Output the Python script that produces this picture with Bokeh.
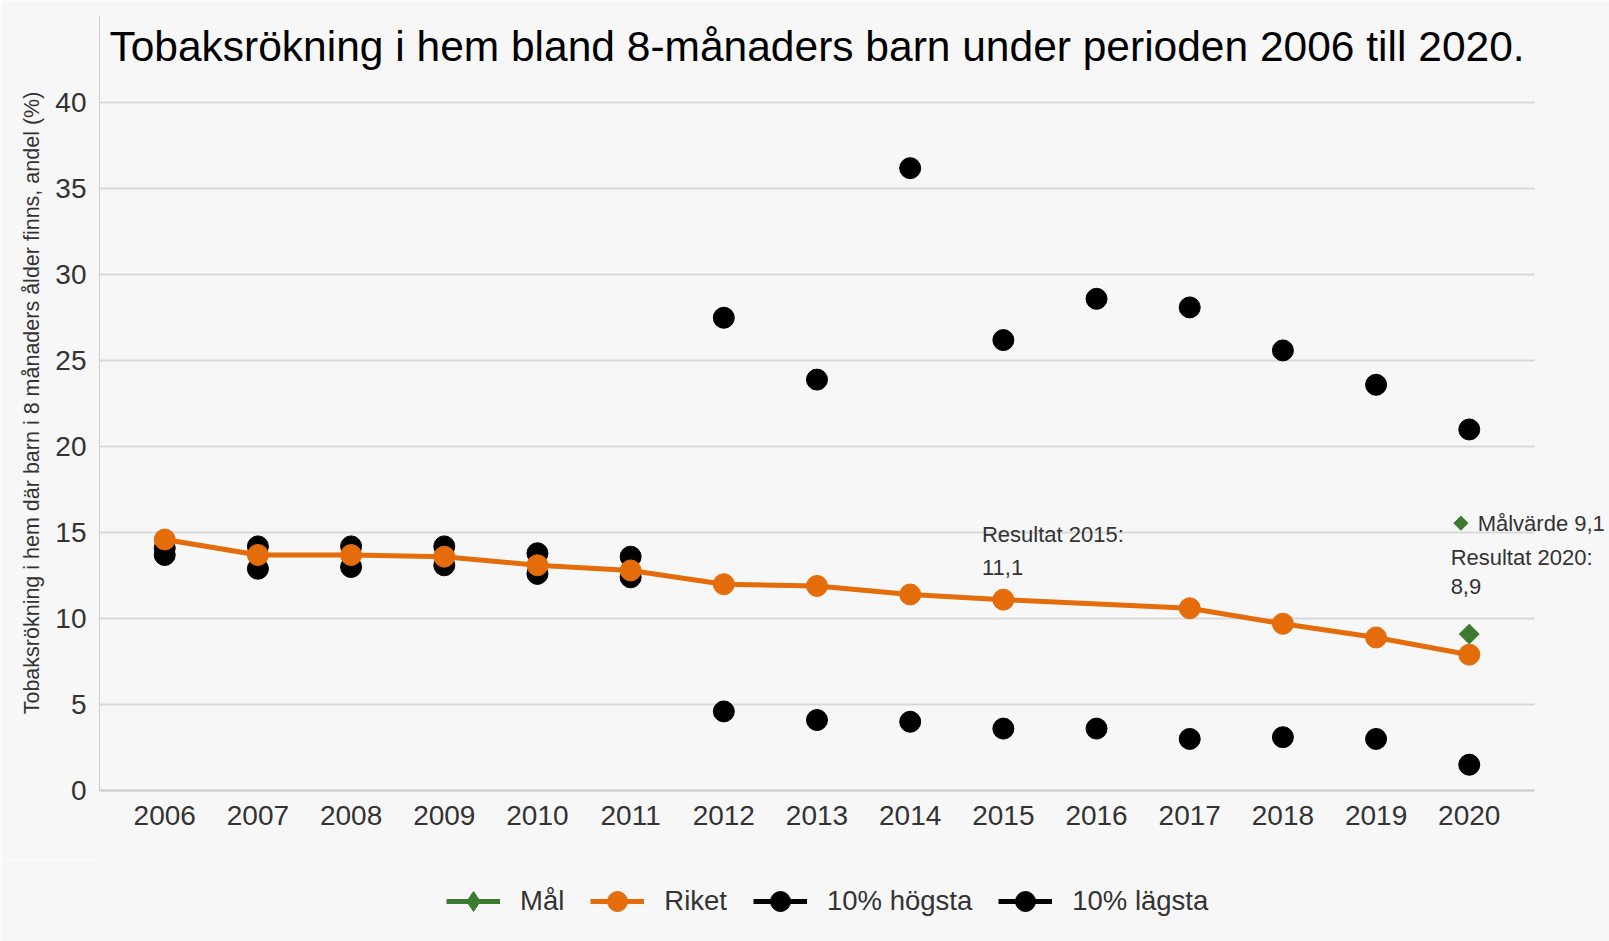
import numpy as np
from bokeh.plotting import figure
from bokeh.layouts import column
from bokeh.models import (Range1d, FixedTicker, Legend, LegendItem, Label,
                          BoxAnnotation)
from bokeh.embed import file_html
from bokeh.resources import INLINE

# ---------------- data ----------------
years = [2006, 2007, 2008, 2009, 2010, 2011, 2012, 2013, 2014, 2015, 2016, 2017, 2018, 2019, 2020]
riket_years = [2006, 2007, 2008, 2009, 2010, 2011, 2012, 2013, 2014, 2015, 2017, 2018, 2019, 2020]
riket = [14.6, 13.7, 13.7, 13.6, 13.1, 12.8, 12.0, 11.9, 11.4, 11.1, 10.6, 9.7, 8.9, 7.9]
hogsta = [14.1, 14.2, 14.2, 14.2, 13.8, 13.6, 27.5, 23.9, 36.2, 26.2, 28.6, 28.1, 25.6, 23.6, 21.0]
lagsta = [13.7, 12.9, 13.0, 13.1, 12.6, 12.4, 4.6, 4.1, 4.0, 3.6, 3.6, 3.0, 3.1, 3.0, 1.5]
mal_years = [2020]
mal = [9.1]
y_ticks = [0, 5, 10, 15, 20, 25, 30, 35, 40]
legend_labels = ["Mål", "Riket", "10% högsta", "10% lägsta"]

title_text = "Tobaksrökning i hem bland 8-månaders barn under perioden 2006 till 2020."
y_label = "Tobaksrökning i hem där barn i 8 månaders ålder finns, andel (%)"

FONT = "Liberation Sans"
ORANGE = "#e46c0a"
GREEN = "#3b7a30"
BG = "#f7f7f7"

X0, X_AXIS_END, X1 = 2005.3, 2020.7, 2021.505
Y1 = 45.08

p = figure(width=1609, height=860, output_backend="svg", toolbar_location=None,
           x_range=Range1d(X0, X1), y_range=Range1d(0, Y1),
           min_border_left=99, min_border_right=0, min_border_top=15,
           min_border_bottom=70)
p.background_fill_color = BG
p.border_fill_color = BG
p.outline_line_color = None

# grid / axes
p.xgrid.grid_line_color = None
p.ygrid.grid_line_color = "#d9d9d9"
p.ygrid.grid_line_width = 2
p.yaxis.ticker = FixedTicker(ticks=y_ticks)
p.xaxis.ticker = FixedTicker(ticks=years)

for ax in (p.xaxis, p.yaxis):
    ax.major_tick_line_color = None
    ax.minor_tick_line_color = None
    ax.major_label_text_font = FONT
    ax.major_label_text_font_size = "28px"
    ax.major_label_text_color = "#333333"

p.xaxis.axis_line_color = "#c8c8c8"
p.xaxis.axis_line_width = 2
p.xaxis.major_label_standoff = 9
p.xaxis.bounds = (X0, X_AXIS_END)
p.yaxis.axis_line_color = "#cccccc"
p.yaxis.axis_line_width = 1
p.yaxis.major_label_standoff = 7
p.yaxis.axis_label = y_label
p.yaxis.axis_label_text_font = FONT
p.yaxis.axis_label_text_font_size = "21.5px"
p.yaxis.axis_label_text_font_style = "normal"
p.yaxis.axis_label_text_color = "#333333"
p.yaxis.axis_label_standoff = 8

# cover grid lines to the right of the chart area (room for annotations)
p.add_layout(BoxAnnotation(left=X_AXIS_END, right=X1, bottom=-1, top=Y1 + 1,
                           fill_color=BG, fill_alpha=1.0, line_alpha=0,
                           level="underlay"))

# series
p.scatter(years, hogsta, marker="circle", size=21, color="black")
p.scatter(years, lagsta, marker="circle", size=21, color="black")
p.line(riket_years, riket, line_color=ORANGE, line_width=5)
p.scatter(riket_years, riket, marker="circle", size=21, color=ORANGE)
p.scatter(mal_years, mal, marker="square", angle=np.pi / 4, size=14, color=GREEN)

# annotations
lab_kw = dict(text_font=FONT, text_font_size="22px", text_color="#333333",
              text_baseline="middle")
p.add_layout(Label(x=2014.77, y=14.89, text="Resultat 2015:", **lab_kw))
p.add_layout(Label(x=2014.77, y=12.95, text="11,1", **lab_kw))
p.add_layout(Label(x=2019.8, y=13.57, text="Resultat 2020:", **lab_kw))
p.add_layout(Label(x=2019.8, y=11.87, text="8,9", **lab_kw))
p.add_layout(Label(x=2020.09, y=15.55, text="Målvärde 9,1", **lab_kw))
p.scatter([2019.91], [15.55], marker="square", angle=np.pi / 4, size=10, color=GREEN)

p.add_layout(Label(x=2013.0, y=43.28, text=title_text, text_align="center",
                   text_baseline="middle", text_font=FONT, text_font_size="42.5px",
                   text_color="black"))

# ---------------- legend strip ----------------
# (series drawn again here only as legend proxies; the ranges keep them out of view)
p2 = figure(width=1609, height=81, output_backend="svg", toolbar_location=None,
            x_range=Range1d(0, 1), y_range=Range1d(0, 1),
            x_axis_location=None, y_axis_location=None, min_border=0)
p2.background_fill_color = BG
p2.border_fill_color = BG
p2.outline_line_color = None
p2.grid.visible = False

series = [(mal_years, mal, GREEN, "diamond"),
          (riket_years, riket, ORANGE, "circle"),
          (years, hogsta, "black", "circle"),
          (years, lagsta, "black", "circle")]
items = []
for lab, (xs, ys, col, mk) in zip(legend_labels, series):
    ln = p2.line(xs, ys, line_color=col, line_width=5)
    sc = p2.scatter(xs, ys, marker=mk, size=20, color=col)
    items.append(LegendItem(label=lab, renderers=[ln, sc]))

legend = Legend(items=items, orientation="horizontal", location=(347, 15))
legend.label_text_font = FONT
legend.label_text_font_size = "27.5px"
legend.label_text_color = "#333333"
legend.glyph_width = 54
legend.glyph_height = 50
legend.label_standoff = 20
legend.spacing = 26
legend.padding = 0
legend.margin = 0
legend.border_line_color = None
legend.background_fill_alpha = 0
p2.add_layout(legend)

layout = column(p, p2, spacing=0)
open("out.html", "w").write(file_html(layout, INLINE))
